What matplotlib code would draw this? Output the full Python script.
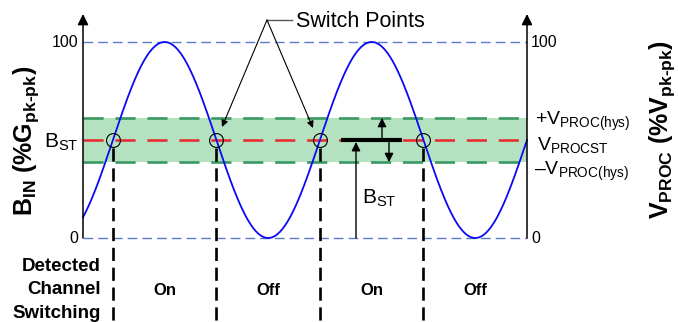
import numpy as np
import matplotlib
matplotlib.use("Agg")
import matplotlib.pyplot as plt

plt.rcParams["font.family"] = ["Liberation Sans", "DejaVu Sans"]
plt.rcParams["mathtext.fontset"] = "custom"
plt.rcParams["mathtext.rm"] = "Liberation Sans"
plt.rcParams["mathtext.bf"] = "Liberation Sans:bold"
plt.rcParams["mathtext.it"] = "Liberation Sans:italic"
plt.rcParams["lines.scale_dashes"] = False

# wave (phase in degrees, value in % pk-pk)
wave_start = -52
wave_end = 720
wave_mid = 50
wave_amp = 50
wave_period = 360

# threshold band
v_procst = 50
v_hys = 11.3

# switch points and detected states
switch_deg = [0, 180, 360, 540]
state_deg = [90, 270, 450, 630]
states = ["On", "Off", "On", "Off"]

left_ticks = [0, 100]
right_ticks = [0, 100]

# pixel <-> data mapping (axes fill the whole figure)
SX = (527 - 83) / (wave_end - wave_start)
SY = (238 - 42) / 100.0


def X(px):
    return wave_start + (px - 83) / SX


def Y(py):
    return (238 - py) / SY


fig = plt.figure(figsize=(6.78, 3.22), dpi=100)
ax = fig.add_axes([0, 0, 1, 1])
ax.set_xlim(X(0), X(678))
ax.set_ylim(Y(322), Y(0))
ax.axis("off")

# band
ax.fill_between([wave_start, wave_end], v_procst - v_hys, v_procst + v_hys,
                color="#b4e2c1", lw=0, zorder=1)
for yv in [v_procst - v_hys, v_procst + v_hys]:
    ax.plot([wave_start, wave_end], [yv, yv], color="#3a9862", lw=1.9,
            dashes=(14.5, 8.5), zorder=2)
ax.plot([wave_start, wave_end], [v_procst, v_procst], color="#e8282c", lw=1.8,
        dashes=(14.5, 8.5), zorder=2)

# 0 / 100 reference lines
for yv in left_ticks:
    ax.plot([wave_start, wave_end], [yv, yv], color="#5b7bc8", lw=1.0,
            dashes=(7, 3.6), zorder=2)

# input wave
t = np.linspace(wave_start, wave_end, 600)
ax.plot(t, wave_mid + wave_amp * np.sin(np.radians(t * 360 / wave_period)),
        color="#0a0af5", lw=1.3, zorder=4)

# switch markers + dashed drop lines
ax.plot(switch_deg, [v_procst] * len(switch_deg), "o", mfc="none", mec="black",
        ms=10, mew=0.8, zorder=5)
for xs in switch_deg:
    ax.plot([xs, xs], [Y(148), Y(322)], color="black", lw=1.9,
            dashes=(9.5, 4.8), zorder=3)

# axes with arrows
for xa in [wave_start, wave_end]:
    ax.annotate("", xy=(xa, Y(14)), xytext=(xa, 0),
                arrowprops=dict(arrowstyle="-|>", color="black", lw=1.1,
                                mutation_scale=16, shrinkA=0, shrinkB=0),
                zorder=6)

# tick labels
for v in left_ticks:
    ax.text(X(78), v - 2.7, str(v), ha="right", va="baseline", fontsize=11.5)
for v in right_ticks:
    ax.text(X(531), v - 2.7, str(v), ha="left", va="baseline", fontsize=11.5)
ax.text(X(78), Y(148), r"B$_\mathregular{ST}$", ha="right", va="baseline", fontsize=15)
ax.text(X(535), Y(125), r"+V$_\mathregular{PROC(hys)}$", ha="left", va="baseline", fontsize=14)
ax.text(X(537), Y(150), r"V$_\mathregular{PROCST}$", ha="left", va="baseline", fontsize=14)
ax.text(X(534), Y(175), "\u2013" + r"V$_\mathregular{PROC(hys)}$", ha="left", va="baseline", fontsize=14)

# axis titles
ax.text(X(26), Y(141), "B$_\\mathregular{IN}$ (%G$_\\mathregular{pk\u2010pk}$)", rotation=90,
        ha="center", va="center", fontsize=18, fontweight="bold")
ax.text(X(662), Y(129), "V$_\\mathregular{PROC}$ (%V$_\\mathregular{pk\u2010pk}$)", rotation=90,
        ha="center", va="center", fontsize=18, fontweight="bold")

# switch points callout
ax.text(X(296), Y(27), "Switch Points", ha="left", va="baseline", fontsize=15.5)
ax.plot([X(267), X(292)], [Y(20), Y(20)], color="#555555", lw=1.0)
for tip in [(222, 127), (313, 128)]:
    ax.annotate("", xy=(X(tip[0]), Y(tip[1])), xytext=(X(267), Y(20)),
                arrowprops=dict(arrowstyle="-|>", color="black", lw=0.8,
                                mutation_scale=10, shrinkA=0, shrinkB=0),
                zorder=6)

# threshold annotation
ax.plot([X(341), X(402)], [v_procst, v_procst], color="black", lw=3.0,
        solid_capstyle="butt", zorder=6)
arrow_kw = dict(arrowstyle="-|>", color="black", lw=1.0, mutation_scale=13,
                shrinkA=0, shrinkB=0)
ax.annotate("", xy=(X(382), v_procst + v_hys), xytext=(X(382), v_procst),
            arrowprops=arrow_kw, zorder=6)
ax.annotate("", xy=(X(389), v_procst - v_hys), xytext=(X(389), v_procst),
            arrowprops=arrow_kw, zorder=6)
ax.annotate("", xy=(X(356), Y(142)), xytext=(X(356), 0),
            arrowprops=arrow_kw, zorder=6)
ax.text(X(362), Y(204), r"B$_\mathregular{ST}$", ha="left", va="baseline", fontsize=15)

# detected channel switching row
for i, line in enumerate(["Detected", "Channel", "Switching"]):
    ax.text(X(101), Y(271 + 23.5 * i), line, ha="right", va="baseline",
            fontsize=13.5, fontweight="bold")
for xs, s in zip(state_deg, states):
    ax.text(xs, Y(295), s, ha="center", va="baseline", fontsize=12, fontweight="bold")

fig.savefig("out.png", dpi=100)
